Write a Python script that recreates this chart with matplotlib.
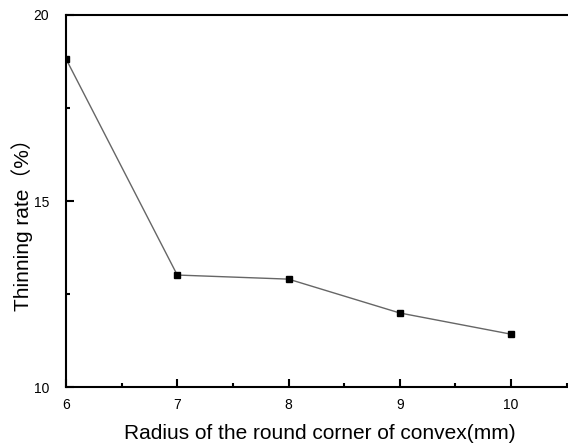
import matplotlib
matplotlib.use("Agg")
import matplotlib.pyplot as plt
from matplotlib.ticker import MultipleLocator

plt.rcParams['font.family'] = ['Liberation Sans', 'Noto Sans CJK SC', 'DejaVu Sans']

# radius of the round corner (mm) vs thinning rate (%)
radius = [6, 7, 8, 9, 10]
thinning = [18.82, 13.01, 12.9, 11.99, 11.42]

fig = plt.figure(figsize=(5.68, 4.45), dpi=100)
ax = fig.add_axes([0.1162, 0.1303, 0.8838, 0.8360])

ax.plot(radius, thinning, color='#666666', linewidth=1.0, zorder=2)
ax.plot(radius, thinning, linestyle='none', marker='s', markersize=5,
        color='black', zorder=3)

ax.set_xlim(6, 10.512)
ax.set_ylim(10, 20)
ax.xaxis.set_major_locator(MultipleLocator(1))
ax.xaxis.set_minor_locator(MultipleLocator(0.5))
ax.yaxis.set_major_locator(MultipleLocator(5))
ax.yaxis.set_minor_locator(MultipleLocator(2.5))

for s in ax.spines.values():
    s.set_linewidth(1.5)
ax.spines['right'].set_visible(False)

ax.tick_params(which='major', direction='in', length=6, width=1.5,
               labelsize=10, pad=8)
ax.tick_params(which='minor', direction='in', length=3, width=1.5)
ax.tick_params(axis='y', pad=12)

ax.set_xlabel('Radius of the round corner of convex(mm)', fontsize=15)
ax.set_ylabel('Thinning rate（%）', fontsize=15)
ax.xaxis.set_label_coords(0.506, -0.100)
ax.yaxis.set_label_coords(-0.066, 0.45)

fig.savefig('out.png', dpi=100)
